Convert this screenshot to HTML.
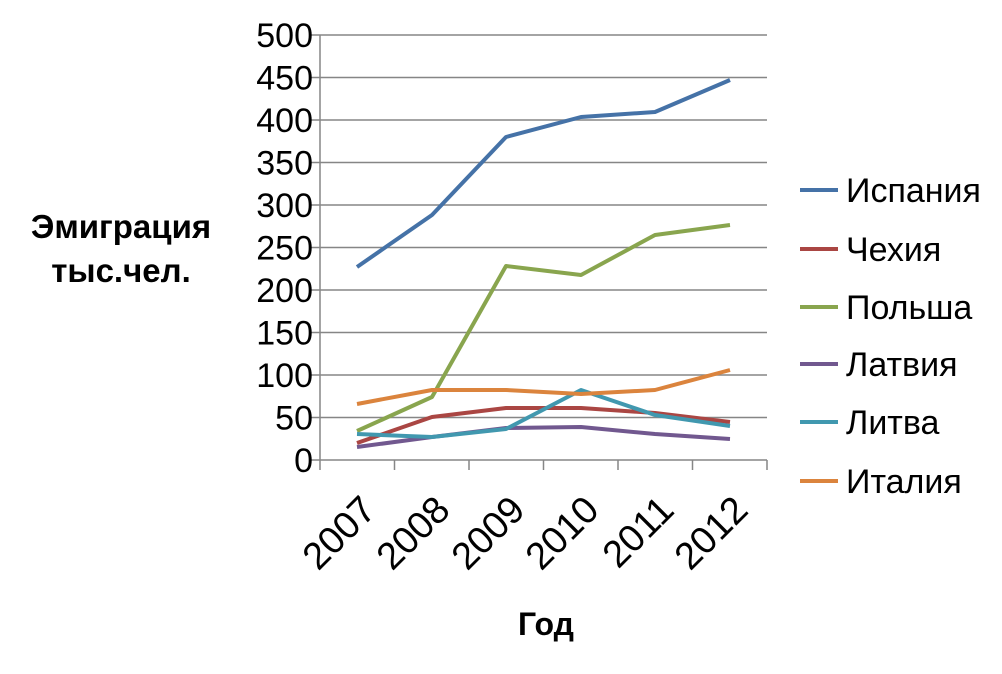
<!DOCTYPE html>
<html><head><meta charset="utf-8"><style>
body{margin:0;background:#fff}
svg text{font-family:"Liberation Sans",sans-serif;fill:#000}
</style></head><body>
<svg width="1002" height="669" viewBox="0 0 1002 669" xmlns="http://www.w3.org/2000/svg">
<g stroke="#868686" stroke-width="1.5">
<line x1="310" y1="35" x2="767" y2="35"/>
<line x1="310" y1="77.5" x2="767" y2="77.5"/>
<line x1="310" y1="120" x2="767" y2="120"/>
<line x1="310" y1="162.5" x2="767" y2="162.5"/>
<line x1="310" y1="205" x2="767" y2="205"/>
<line x1="310" y1="247.5" x2="767" y2="247.5"/>
<line x1="310" y1="290" x2="767" y2="290"/>
<line x1="310" y1="332.5" x2="767" y2="332.5"/>
<line x1="310" y1="375" x2="767" y2="375"/>
<line x1="310" y1="417.5" x2="767" y2="417.5"/>
<line x1="310" y1="460" x2="767" y2="460"/>
<line x1="320" y1="35" x2="320" y2="470"/>
<line x1="394.5" y1="460" x2="394.5" y2="470"/>
<line x1="469" y1="460" x2="469" y2="470"/>
<line x1="543.5" y1="460" x2="543.5" y2="470"/>
<line x1="618" y1="460" x2="618" y2="470"/>
<line x1="692.5" y1="460" x2="692.5" y2="470"/>
<line x1="767" y1="460" x2="767" y2="470"/>
</g>
<g font-size="34" text-anchor="end">
<text x="313" y="47">500</text><text x="313" y="89.5">450</text><text x="313" y="132">400</text>
<text x="313" y="174.5">350</text><text x="313" y="217">300</text><text x="313" y="259.5">250</text>
<text x="313" y="302">200</text><text x="313" y="344.5">150</text><text x="313" y="387">100</text>
<text x="313" y="429.5">50</text><text x="313" y="472">0</text>
</g>
<g font-size="38" text-anchor="end">
<text transform="translate(378,512) rotate(-45)">2007</text>
<text transform="translate(452,512) rotate(-45)">2008</text>
<text transform="translate(527,512) rotate(-45)">2009</text>
<text transform="translate(601,512) rotate(-45)">2010</text>
<text transform="translate(676,512) rotate(-45)">2011</text>
<text transform="translate(750,512) rotate(-45)">2012</text>
</g>
<text x="546" y="635" font-size="32" font-weight="bold" text-anchor="middle">Год</text>
<text x="121" y="238" font-size="33" font-weight="bold" text-anchor="middle">Эмиграция</text>
<text x="121" y="282" font-size="33" font-weight="bold" text-anchor="middle">тыс.чел.</text>
<g fill="none" stroke-width="4" stroke-linejoin="round">
<polyline stroke="#4572A7" points="357,267 432,215 506,137 581,117 655,112 730,80"/>
<polyline stroke="#AA4643" points="357,443 432,417 506,408 581,408 655,413 730,422"/>
<polyline stroke="#89A54E" points="357,431 432,397 506,266 581,275 655,235 730,225"/>
<polyline stroke="#71588F" points="357,447 432,437 506,428 581,427 655,434 730,439"/>
<polyline stroke="#4198AF" points="357,434 432,437 506,429 581,390 655,415 730,426"/>
<polyline stroke="#DB843D" points="357,404 432,390 506,390 581,394 655,390 730,370"/>
</g>
<g stroke-width="4">
<line x1="800" y1="190" x2="838" y2="190" stroke="#4572A7"/>
<line x1="800" y1="249" x2="838" y2="249" stroke="#AA4643"/>
<line x1="800" y1="307" x2="838" y2="307" stroke="#89A54E"/>
<line x1="800" y1="364" x2="838" y2="364" stroke="#71588F"/>
<line x1="800" y1="422" x2="838" y2="422" stroke="#4198AF"/>
<line x1="800" y1="481" x2="838" y2="481" stroke="#DB843D"/>
</g>
<g font-size="34">
<text x="846" y="202">Испания</text>
<text x="846" y="261">Чехия</text>
<text x="846" y="319">Польша</text>
<text x="846" y="376">Латвия</text>
<text x="846" y="434">Литва</text>
<text x="846" y="493">Италия</text>
</g>
</svg>
</body></html>
